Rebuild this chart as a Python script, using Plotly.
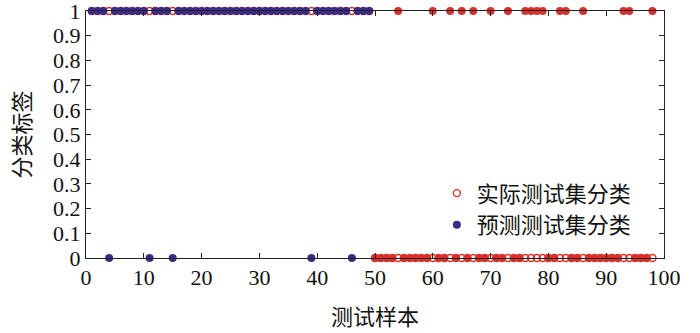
import plotly.graph_objects as go

# sample index 1..98
samples = list(range(1, 99))

# actual class labels (实际测试集分类)
actual_labels = [
    1, 1, 1, 1, 1, 1, 1, 1, 1, 1,
    1, 1, 1, 1, 1, 1, 1, 1, 1, 1,
    1, 1, 1, 1, 1, 1, 1, 1, 1, 1,
    1, 1, 1, 1, 1, 1, 1, 1, 1, 1,
    1, 1, 1, 1, 1, 1, 1, 1, 1,
    0, 0, 0, 0, 0, 0, 0, 0, 0, 0,
    0, 0, 0, 0, 0, 0, 0, 0, 0, 0,
    0, 0, 0, 0, 0, 0, 0, 0, 0, 0,
    0, 0, 0, 0, 0, 0, 0, 0, 0, 0,
    0, 0, 0, 0, 0, 0, 0, 0, 0,
]

# predicted class labels (预测测试集分类)
predicted_labels = [
    1, 1, 1, 0, 1, 1, 1, 1, 1, 1,   # 1-10
    0, 1, 1, 1, 0, 1, 1, 1, 1, 1,   # 11-20
    1, 1, 1, 1, 1, 1, 1, 1, 1, 1,   # 21-30
    1, 1, 1, 1, 1, 1, 1, 1, 0, 1,   # 31-40
    1, 1, 1, 1, 1, 0, 1, 1, 1,      # 41-49
    0, 0, 0, 0, 1, 0, 0, 0, 0, 0,   # 50-59
    1, 0, 0, 1, 0, 1, 0, 1, 0, 0,   # 60-69
    1, 0, 0, 1, 0, 0, 1, 1, 1, 1,   # 70-79
    0, 0, 1, 1, 0, 0, 1, 0, 0, 0,   # 80-89
    0, 0, 0, 1, 1, 0, 0, 0, 1,      # 90-98
]

x_ticks = [0, 10, 20, 30, 40, 50, 60, 70, 80, 90, 100]
y_ticks = [0, 0.1, 0.2, 0.3, 0.4, 0.5, 0.6, 0.7, 0.8, 0.9, 1]
y_tick_text = ["0", "0.1", "0.2", "0.3", "0.4", "0.5", "0.6", "0.7", "0.8", "0.9", "1"]

RED = "#d8312b"
BLUE = "#3b2a86"

pred_colors = [BLUE if a == 1 else RED for a in actual_labels]

fig = go.Figure()
fig.add_trace(go.Scatter(
    x=samples, y=actual_labels, mode="markers", name="实际测试集分类",
    marker=dict(symbol="circle-open", size=7, color=RED, line=dict(width=1.4, color=RED)),
    cliponaxis=False,
))
fig.add_trace(go.Scatter(
    x=samples, y=predicted_labels, mode="markers", name="预测测试集分类",
    marker=dict(symbol="circle", size=8, color=pred_colors, line=dict(width=0)),
    cliponaxis=False,
))

tick_font = dict(family="Liberation Serif", size=22, color="#111")
title_font = dict(family="Noto Sans CJK SC", size=22, color="#111")

fig.update_layout(
    width=700, height=333,
    margin=dict(l=86, r=36, t=11, b=75),
    paper_bgcolor="white", plot_bgcolor="white",
    showlegend=True,
    legend=dict(
        x=0.607, y=0.197, xanchor="left", yanchor="middle",
        bgcolor="rgba(0,0,0,0)", borderwidth=0,
        font=dict(family="Noto Sans CJK SC", size=22, color="#111"),
        itemsizing="trace", tracegroupgap=0,
    ),
    xaxis=dict(
        range=[0, 100], tickvals=x_ticks, ticktext=[str(v) for v in x_ticks],
        showgrid=False, zeroline=False, showline=True, linecolor="#222", linewidth=1,
        mirror="ticks", ticks="inside", ticklen=5, tickcolor="#222",
        tickfont=tick_font, automargin=False, ticklabeloverflow="allow",
        title=dict(text="测试样本", font=title_font, standoff=20),
    ),
    yaxis=dict(
        range=[0, 1], tickvals=y_ticks, ticktext=y_tick_text,
        showgrid=False, zeroline=False, showline=True, linecolor="#222", linewidth=1,
        mirror="ticks", ticks="inside", ticklen=5, tickcolor="#222",
        tickfont=tick_font, automargin=False, ticklabeloverflow="allow",
        title=dict(text="分类标签", font=title_font, standoff=16),
    ),
)

fig.write_html(
    "out.html",
    config={"displayModeBar": False},
    post_script="document.body.style.margin='0';document.body.style.overflow='hidden';",
)
